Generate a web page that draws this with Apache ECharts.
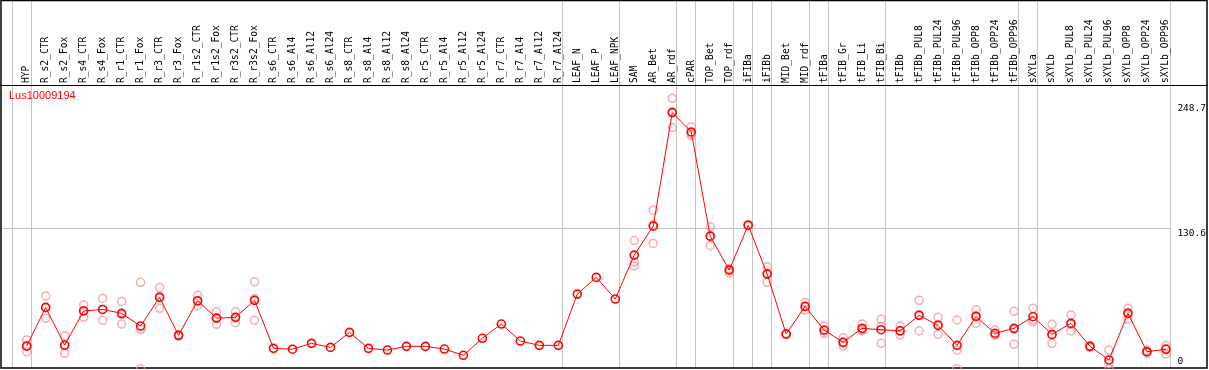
<!DOCTYPE html>
<html><head><meta charset="utf-8">
<script src="https://cdn.jsdelivr.net/npm/echarts@6/dist/echarts.min.js"></script>
<style>html,body{margin:0;padding:0;background:#fff;overflow:hidden}#c{width:1209px;height:370px}</style>
</head><body><div id="c"></div><script>
const geneName = 'Lus10009194';
const categories = ['HYP','R_s2_CTR','R_s2_Fox','R_s4_CTR','R_s4_Fox','R_r1_CTR','R_r1_Fox','R_r3_CTR','R_r3_Fox','R_r1s2_CTR','R_r1s2_Fox','R_r3s2_CTR','R_r3s2_Fox','R_s6_CTR','R_s6_Al4','R_s6_Al12','R_s6_Al24','R_s8_CTR','R_s8_Al4','R_s8_Al12','R_s8_Al24','R_r5_CTR','R_r5_Al4','R_r5_Al12','R_r5_Al24','R_r7_CTR','R_r7_Al4','R_r7_Al12','R_r7_Al24','LEAF_N','LEAF_P','LEAF_NPK','SAM','AR_Bet','AR_rdf','cPAR','TOP_Bet','TOP_rdf','iFIBa','iFIBb','MID_Bet','MID_rdf','tFIBa','tFIB_Gr','tFIB_Li','tFIB_Bi','tFIBb','tFIBb_PUL8','tFIBb_PUL24','tFIBb_PUL96','tFIBb_OPP8','tFIBb_OPP24','tFIBb_OPP96','sXYLa','sXYLb','sXYLb_PUL8','sXYLb_PUL24','sXYLb_PUL96','sXYLb_OPP8','sXYLb_OPP24','sXYLb_OPP96'];
const meanValues = [19.1,55.6,20.0,52.2,53.7,50.0,38.0,65.1,29.2,61.9,45.5,46.2,62.3,16.9,16.1,21.6,17.8,32.0,16.9,15.3,18.8,18.8,16.2,10.3,26.4,39.9,23.8,19.7,19.7,68.2,84.0,63.5,105.1,132.5,239.9,221.6,123.0,90.9,133.4,87.1,30.4,56.6,34.2,22.6,35.8,34.5,33.5,48.1,38.6,19.7,47.1,31.1,35.8,46.8,30.1,40.5,18.8,5.9,50.0,13.7,16.0];
const rep1 = [24.8,66.3,28.5,57.8,64.1,61.3,79.3,74.5,30.0,67.0,51.5,51.5,79.8,null,null,null,null,null,null,null,null,null,null,null,null,null,null,null,null,null,null,null,118.9,147.6,253.4,226.3,131.8,92.5,134.0,94.0,31.0,60.4,38.0,26.9,39.9,44.3,38.0,62.3,46.2,43.7,53.1,34.2,51.9,54.7,39.6,48.4,19.5,15.3,54.7,15.0,19.7];
const rep2 = [13.7,45.3,12.2,46.2,43.4,39.9,-2.5,54.7,28.5,57.2,39.6,41.1,43.4,null,null,null,null,null,null,null,null,null,null,null,null,null,null,null,null,null,null,null,95.0,116.1,225.7,218.4,114.2,88.3,133.0,79.3,30.0,53.1,31.1,19.1,34.2,21.6,29.5,33.3,30.1,-2.5,40.5,29.5,20.7,42.0,21.6,33.3,18.0,-2.5,44.6,12.5,11.5];
const rep3 = [18.8,55.2,19.3,52.6,53.6,48.8,34.7,66.0,29.1,61.5,45.4,46.0,63.7,null,null,null,null,null,null,null,null,null,null,null,null,null,null,null,null,null,null,null,98.7,133.8,240.6,220.1,123.0,91.9,133.2,88.0,30.2,56.3,33.5,21.8,33.3,37.6,33.0,48.7,39.5,15.4,47.7,29.6,34.8,43.7,29.1,39.8,18.9,2.4,50.7,13.6,16.8];
const yTickLabels = [0, 130.6, 248.7];
const groupEnds = [-1,0,28,31,34,35,37,38,39,41,42,45,52,53,60];

const mono = '"DejaVu Sans Mono", monospace';
const chart = echarts.init(document.getElementById('c'), null, {renderer:'canvas'});
const repStyle = {color:'rgba(0,0,0,0)', borderColor:'#f09a9a', borderWidth:1.5};
function repSeries(arr){
  return {type:'scatter', data:arr, xAxisIndex:0, yAxisIndex:0, symbol:'circle', symbolSize:8,
    itemStyle:repStyle, clip:false, silent:true, z:3};
}
const yLabelBase = {margin:2, fontSize:9.5, fontFamily:mono, color:'#000', align:'left'};
chart.setOption({
  animation:false,
  title:{text:geneName, left:9, top:90, padding:0,
    textStyle:{color:'#ff0000', fontSize:11, fontWeight:'normal', fontFamily:'"Liberation Sans", Arial, sans-serif'}},
  grid:{left:17.2, right:32.8, top:85, bottom:3.8},
  xAxis:[
    {type:'category', data:categories, position:'top', boundaryGap:true,
      axisLine:{show:false}, axisTick:{show:false}, splitLine:{show:false},
      axisLabel:{rotate:90, interval:0, margin:2, fontSize:9.6, fontFamily:mono, color:'#000'}},
    {type:'value', min:-0.5, max:60.5, show:false}
  ],
  yAxis:[
    {type:'value', min:0, max:266, position:'right', axisLine:{show:false}, axisTick:{show:false}, splitLine:{show:false},
      axisLabel:Object.assign({customValues:yTickLabels.slice(1), verticalAlign:'top'}, yLabelBase)},
    {type:'value', min:0, max:266, position:'right', axisLine:{show:false}, axisTick:{show:false}, splitLine:{show:false},
      axisLabel:Object.assign({customValues:yTickLabels.slice(0,1), verticalAlign:'bottom'}, yLabelBase)}
  ],
  series:[
    repSeries(rep1), repSeries(rep2), repSeries(rep3),
    {type:'line', data:meanValues, xAxisIndex:0, yAxisIndex:0, symbol:'circle', symbolSize:8,
      lineStyle:{color:'#ff0000', width:1}, itemStyle:{color:'rgba(0,0,0,0)', borderColor:'#ff0000', borderWidth:1.6},
      clip:false, silent:true, z:4}
  ]
});

const g = [];
let lastX = 1170;
groupEnds.forEach(function(e){
  const x = Math.round(chart.convertToPixel({xAxisIndex:1}, e + 0.21)) + 0.5;
  lastX = x;
  g.push({type:'line', silent:true, z:0, shape:{x1:x, y1:0, x2:x, y2:368}, style:{stroke:'#c4c4c4', lineWidth:1}});
});
const yMid = Math.round(chart.convertToPixel({yAxisIndex:0}, yTickLabels[1])) + 0.5;
g.push({type:'line', silent:true, z:0, shape:{x1:1, y1:yMid, x2:lastX, y2:yMid}, style:{stroke:'#c4c4c4', lineWidth:1}});
g.push({type:'line', silent:true, z:1, shape:{x1:0, y1:85.5, x2:1208, y2:85.5}, style:{stroke:'#000', lineWidth:1}});
g.push({type:'rect', silent:true, z:1, shape:{x:1, y:0.5, width:1206, height:367.5}, style:{fill:null, stroke:'#000', lineWidth:1.5}});
chart.setOption({graphic:g});
</script></body></html>
